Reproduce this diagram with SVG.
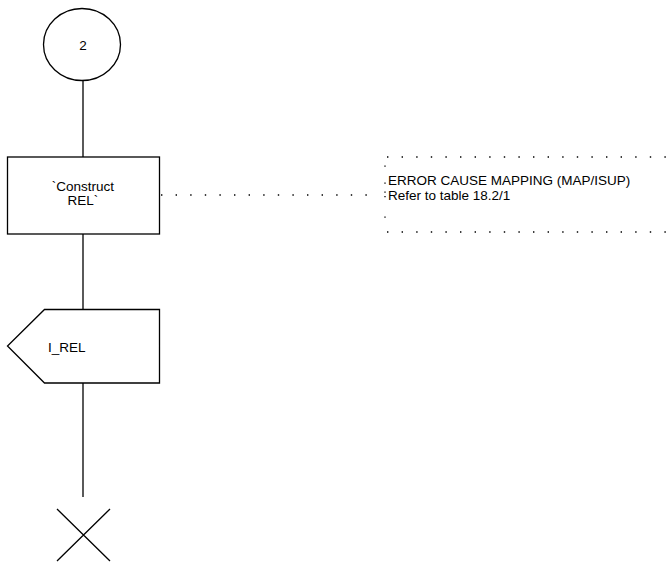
<svg xmlns="http://www.w3.org/2000/svg" width="668" height="563" viewBox="0 0 668 563">
<style>
.s{fill:none;stroke:#000;stroke-width:1.3}
.d{fill:none;stroke:#000;stroke-width:1.4;stroke-dasharray:1.4 13.2}
text{font-family:"Liberation Sans",Arial,sans-serif;font-size:13.5px;fill:#000}
</style>
<rect width="668" height="563" fill="#fff"/>
<g id="connectors">
<line class="s" x1="83" y1="81" x2="83" y2="157"/>
<line class="s" x1="83" y1="234" x2="83" y2="309"/>
<line class="s" x1="83" y1="383" x2="83" y2="497"/>
<line class="d" x1="161" y1="195" x2="372" y2="195"/>
</g>
<g id="start">
<ellipse class="s" cx="82" cy="44.5" rx="38.5" ry="36"/>
<text x="83" y="50" text-anchor="middle">2</text>
</g>
<g id="task">
<rect class="s" x="7.5" y="157" width="152" height="77"/>
<text x="83" y="191" text-anchor="middle">`Construct</text>
<text x="83" y="205" text-anchor="middle">REL`</text>
</g>
<g id="comment">
<line class="d" x1="387" y1="157" x2="668" y2="157"/>
<line class="d" x1="387" y1="232" x2="668" y2="232"/>
<path class="s" d="M385,165.5v1.3M385,182.5v1.3M385,191.5v1.3M385,196v1.3M385,216.5v1.3"/>
<text x="388" y="185">ERROR CAUSE MAPPING (MAP/ISUP)</text>
<text x="388" y="199.5">Refer to table 18.2/1</text>
</g>
<g id="output">
<polygon class="s" points="44.5,309.5 159.5,309.5 159.5,383 44.5,383 7.5,346"/>
<text x="48" y="352">I_REL</text>
</g>
<g id="stop">
<path class="s" d="M57,509L110,561M110,509L57,561"/>
</g>
</svg>
